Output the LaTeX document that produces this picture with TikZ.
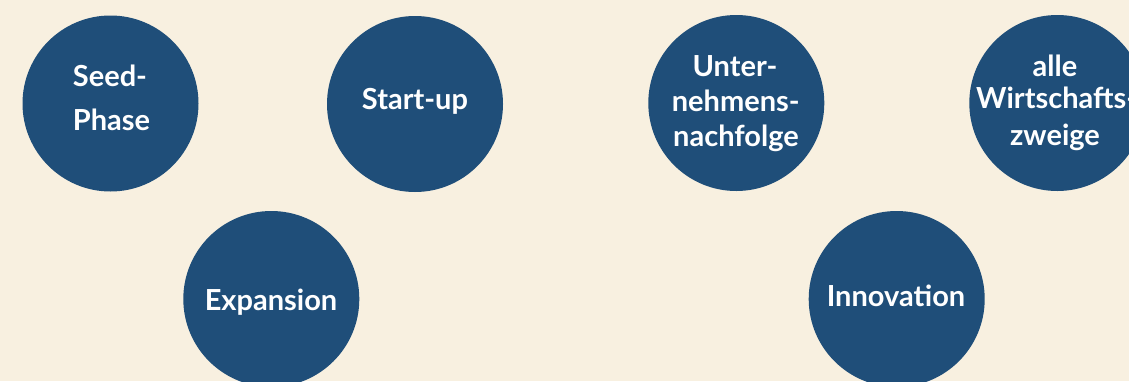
\documentclass[tikz,border=0pt]{standalone}
\usepackage{fontspec}
\setmainfont{Lato}[UprightFont={* Bold}]
\definecolor{bg}{RGB}{248,240,224}
\definecolor{disc}{RGB}{31,78,121}
\tikzset{
  disc/.style={circle, fill=disc, draw=none, minimum size=176pt, inner sep=0pt},
  lbl/.style={text=white, inner sep=0pt, anchor=base, font=\fontsize{29}{35}\selectfont}
}
\begin{document}
\begin{tikzpicture}[x=1pt,y=-1pt]
\useasboundingbox (0,0) rectangle (1129,381);
\clip (0,0) rectangle (1129,381);
\fill[bg] (0,0) rectangle (1129,381);
\node[disc] (seed) at (110.5,103.5) {};
\node[disc] (start) at (415,104) {};
\node[disc] (exp) at (271.3,299) {};
\node[disc] (unter) at (736.3,103) {};
\node[disc] (alle) at (1057.3,103) {};
\node[disc] (inno) at (896.7,299) {};
\node[lbl, anchor=base west] (seedA) at (72.7,86) {Seed-};
\node[lbl, anchor=base west] (seedB) at (72.7,130.7) {Phase};
\node[lbl] (startA) at (415,109) {Start-up};
\node[lbl] (expA) at (271,310.7) {Expansion};
\node[lbl] (unterA) at (735,76) {Unter-};
\node[lbl] (unterB) at (735.8,111) {nehmens-};
\node[lbl] (unterC) at (736,146.7) {nachfolge};
\node[lbl] (alleA) at (1055,76) {alle};
\node[lbl, anchor=base west] (alleB) at (976,108.3) {Wirtschafts-};
\node[lbl] (alleC) at (1055,145.7) {zweige};
\node[lbl] (innoA) at (896,306.7) {Innovation};
\end{tikzpicture}
\end{document}
